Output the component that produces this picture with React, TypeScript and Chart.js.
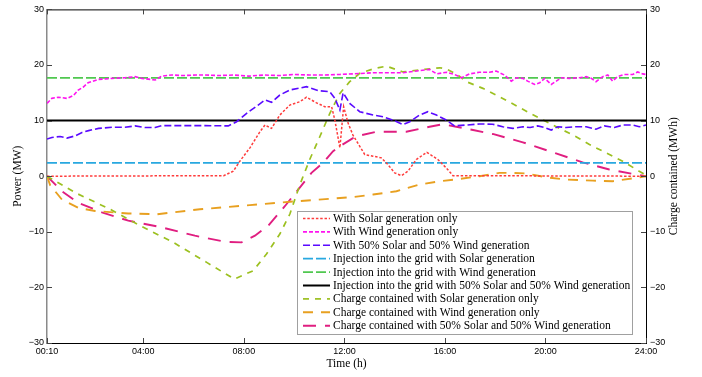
import React, { useEffect, useRef } from 'react';
import { Chart, registerables } from 'chart.js';

Chart.register(...registerables);

// ---- axes ----
const xTickValues = [1 / 6, 4, 8, 12, 16, 20, 24];
const xTickLabels = ['00:10', '04:00', '08:00', '12:00', '16:00', '20:00', '24:00'];
const yTickValues = [-30, -20, -10, 0, 10, 20, 30];

// ---- Power (MW), left axis ----
const solarT = [0.1667, 7.2, 7.58, 7.84, 8.24, 8.64, 8.84, 9.1, 9.43, 9.83, 10.23, 10.49, 10.89, 11.22, 11.49, 11.62, 11.82, 11.97, 12.15, 12.34, 12.54, 12.81, 13.14, 13.47, 13.73, 14.0, 14.27, 14.53, 14.86, 15.28, 15.72, 16.05, 16.32, 24];
const solarP = [0, 0.1, 0.9, 2.7, 5.1, 8, 9.2, 8.6, 11, 12.8, 13.4, 14.2, 13.2, 12.5, 12.5, 10.1, 5.1, 12.5, 9.5, 7.4, 5.9, 3.9, 3.6, 3.3, 2.1, 0.6, 0.1, 0.9, 3, 4.3, 3, 1.5, 0.1, 0];

const windT = [0.1667, 0.36, 0.61, 0.96, 1.22, 1.41, 1.6, 1.8, 2.2, 2.75, 3.27, 3.67, 3.94, 4.47, 4.73, 5.13, 5.6, 6.1, 6.45, 7.0, 7.6, 8.2, 8.8, 9.4, 10.0, 10.6, 11.2, 11.82, 12.33, 13.13, 14.32, 14.99, 15.39, 15.67, 16.07, 16.38, 16.66, 16.98, 17.37, 17.77, 18.04, 18.37, 18.64, 18.84, 19.1, 19.29, 19.57, 19.77, 19.97, 20.23, 20.43, 20.62, 20.95, 21.35, 21.62, 21.82, 22.01, 22.28, 22.48, 22.67, 22.87, 23.14, 23.47, 23.67, 23.87, 24];
const windP = [13.1, 14, 14.2, 14, 14.5, 15.5, 16, 16.8, 17.4, 17.6, 17.7, 17.9, 17.6, 17.3, 18, 18.2, 18.1, 18.2, 18.2, 18.1, 18.2, 18.0, 18.2, 18.1, 18.3, 18.2, 18.2, 18.3, 18.4, 18.6, 18.6, 19, 19.2, 18.4, 18.7, 18.3, 17.7, 18.4, 18.7, 18.7, 18.9, 18.2, 17.1, 17.7, 17.6, 17.1, 16.5, 16.8, 17.6, 16.5, 17.1, 17.7, 17.6, 17.7, 17.9, 17.6, 17.0, 17.9, 18.2, 17.1, 17.9, 18.3, 18.3, 18.75, 18.4, 18.3];

const mixT = [0.1667, 0.36, 0.69, 0.96, 1.29, 1.56, 1.82, 2.22, 2.75, 3.27, 3.67, 4.07, 4.47, 4.73, 5.13, 6.45, 7.38, 7.71, 8.11, 8.57, 8.84, 9.1, 9.43, 9.83, 10.49, 10.95, 11.42, 11.62, 11.82, 11.95, 12.21, 12.61, 13.14, 13.54, 13.93, 14.33, 14.6, 14.99, 15.32, 15.66, 16.05, 16.38, 16.85, 17.38, 17.9, 18.3, 18.7, 19.1, 19.39, 19.69, 19.97, 20.23, 20.49, 20.82, 21.22, 21.62, 22.01, 22.34, 22.74, 23.07, 23.47, 23.73, 24];
const mixP = [6.67, 6.96, 7.14, 6.85, 7.26, 7.86, 8.2, 8.6, 8.8, 8.8, 9.05, 8.75, 8.75, 9.1, 9.1, 9.1, 9.05, 9.8, 11.3, 12.8, 13.7, 13.3, 14.6, 15.5, 16.1, 15.4, 15.2, 14, 11.9, 15, 13.1, 11.6, 11, 10.7, 10.1, 9.3, 9.8, 11, 11.6, 11, 10.1, 9.05, 9.2, 9.4, 9.35, 8.9, 8.6, 8.9, 8.75, 9.05, 8.75, 8.3, 8.9, 8.75, 8.9, 8.9, 8.45, 9.05, 8.75, 9.2, 9.2, 8.9, 9.2];

const injectionT = [1 / 6, 24];
const injectionSolar = [2.4, 2.4];
const injectionWind = [17.7, 17.7];
const injectionMix = [10, 10];

// ---- Charge contained (MWh), right axis ----
const chargeSolarT = [0.1667, 1.35, 2.68, 3.87, 5.19, 6.52, 7.62, 8.37, 8.9, 9.43, 9.83, 10.23, 10.62, 11.02, 11.42, 11.82, 12.21, 12.61, 13.14, 13.67, 14.33, 14.86, 15.79, 16.05, 16.45, 16.85, 17.51, 18.17, 19.77, 20.43, 21.22, 21.75, 22.41, 23.07, 23.73, 24];
const chargeSolar = [0, -3.1, -5.95, -8.9, -11.9, -15.5, -18.5, -17, -14, -10.4, -6.8, -1.5, 3, 7.1, 11.3, 14.9, 17, 18.5, 19.3, 19.8, 18.75, 19.05, 19.5, 19.3, 18.4, 17, 15.8, 14.3, 10.4, 8.9, 7.1, 5.7, 4.2, 2.7, 0.9, 0.2];

const chargeWindT = [0.1667, 0.29, 0.76, 1.42, 2.08, 3.4, 4.53, 6.25, 8.24, 9.83, 12.34, 13.14, 14.07, 14.99, 15.79, 16.58, 17.38, 18.17, 18.7, 19.23, 20.03, 20.82, 21.88, 22.67, 23.47, 24];
const chargeWind = [0, -1.6, -4.2, -5.7, -6.25, -6.7, -6.85, -5.95, -5.2, -4.6, -3.75, -3.3, -2.7, -1.5, -0.9, -0.5, 0, 0.6, 0.6, 0.5, -0.2, -0.6, -0.8, -0.9, -0.4, 0];

const chargeMixT = [0.1667, 0.76, 1.42, 2.35, 3.4, 4.73, 6.05, 7.25, 7.91, 8.44, 8.97, 9.63, 10.16, 10.69, 11.15, 11.55, 11.82, 12.34, 12.61, 13.27, 14.46, 15.39, 15.92, 16.45, 17.12, 17.9, 19.1, 20.42, 21.48, 22.54, 23.6, 24];
const chargeMix = [0, -2.7, -4.8, -6.5, -8, -9.2, -10.7, -11.8, -11.9, -10.7, -8.9, -5.4, -2.4, 0.6, 2.4, 4.5, 5.4, 6.85, 7.3, 8, 8, 8.9, 9.35, 8.9, 8.3, 7.6, 6.1, 4.1, 2.5, 1.2, 0.3, 0];

const seriesLabels = [
  'With Solar generation only',
  'With Wind generation only',
  'With 50% Solar and 50% Wind generation',
  'Injection into the grid with Solar generation',
  'Injection into the grid with Wind generation',
  'Injection into the grid with 50% Solar and 50% Wind generation',
  'Charge contained with Solar generation only',
  'Charge contained with Wind generation only',
  'Charge contained with 50% Solar and 50% Wind generation',
];

const pts = (t: number[], v: number[]) => t.map((x, i) => ({ x, y: v[i] }));

const SERIF = '"Liberation Serif", "Times New Roman", serif';
const SANS = '"Liberation Sans", Arial, sans-serif';

const fmtMinus = (v: number) => (v < 0 ? '\u2212' + Math.abs(v) : String(v));

const framePlugin = {
  id: 'frame',
  afterDraw(chart: any) {
    const { ctx, chartArea: a, scales } = chart;
    ctx.save();
    // top border
    ctx.strokeStyle = '#000';
    ctx.lineWidth = 1;
    ctx.beginPath();
    ctx.moveTo(a.left, a.top + 0.5);
    ctx.lineTo(a.right, a.top + 0.5);
    ctx.stroke();
    // inward ticks
    ctx.strokeStyle = '#444';
    ctx.lineWidth = 1;
    const tl = 5;
    xTickValues.forEach((v) => {
      const px = Math.round(scales.x.getPixelForValue(v)) + 0.5;
      ctx.beginPath();
      ctx.moveTo(px, a.top);
      ctx.lineTo(px, a.top + tl);
      ctx.moveTo(px, a.bottom);
      ctx.lineTo(px, a.bottom - tl);
      ctx.stroke();
    });
    yTickValues.forEach((v) => {
      const py = Math.round(scales.y.getPixelForValue(v)) + 0.5;
      ctx.beginPath();
      ctx.moveTo(a.left, py);
      ctx.lineTo(a.left + tl, py);
      ctx.moveTo(a.right, py);
      ctx.lineTo(a.right - tl, py);
      ctx.stroke();
    });
    // axis titles
    ctx.fillStyle = '#000';
    ctx.font = `11.5px ${SERIF}`;
    ctx.textAlign = 'center';
    ctx.textBaseline = 'middle';
    ctx.fillText('Time (h)', (a.left + a.right) / 2, 364);
    const cy = (a.top + a.bottom) / 2;
    ctx.save();
    ctx.translate(18, cy);
    ctx.rotate(-Math.PI / 2);
    ctx.fillText('Power (MW)', 0, 0);
    ctx.restore();
    ctx.save();
    ctx.translate(674, cy);
    ctx.rotate(-Math.PI / 2);
    ctx.fillText('Charge contained (MWh)', 0, 0);
    ctx.restore();
    // legend
    const bx = 297.5, by = 211.5, bw = 335, bh = 123;
    ctx.fillStyle = '#fff';
    ctx.fillRect(bx, by, bw, bh);
    ctx.strokeStyle = '#a0a0a0';
    ctx.lineWidth = 1;
    ctx.strokeRect(bx, by, bw, bh);
    chart.data.datasets.forEach((ds: any, i: number) => {
      const ry = 218.5 + i * 13.4;
      ctx.save();
      ctx.strokeStyle = ds.borderColor;
      ctx.lineWidth = ds.borderWidth;
      ctx.setLineDash(ds.borderDash || []);
      ctx.beginPath();
      ctx.moveTo(303, ry);
      ctx.lineTo(330, ry);
      ctx.stroke();
      ctx.restore();
      ctx.fillStyle = '#000';
      ctx.font = `11.5px ${SERIF}`;
      ctx.textAlign = 'left';
      ctx.textBaseline = 'middle';
      ctx.fillText(ds.label, 333, ry + 0.5);
    });
    ctx.restore();
  },
};

export default function App() {
  const ref = useRef<HTMLCanvasElement | null>(null);
  useEffect(() => {
    if (!ref.current) return;
    const mk = (label: string, data: any[], color: string, width: number, dash: number[], axis: string) => ({
      label,
      data,
      borderColor: color,
      backgroundColor: color,
      borderWidth: width,
      borderDash: dash,
      pointRadius: 0,
      tension: 0,
      fill: false,
      yAxisID: axis,
    });
    const chart = new Chart(ref.current, {
      type: 'line',
      data: {
        datasets: [
          mk(seriesLabels[0], pts(solarT, solarP), '#ff3c3c', 1.5, [2.5, 1.8], 'y'),
          mk(seriesLabels[1], pts(windT, windP), '#ff14f0', 1.6, [4, 2], 'y'),
          mk(seriesLabels[2], pts(mixT, mixP), '#5a0aff', 1.6, [7, 3], 'y'),
          mk(seriesLabels[3], pts(injectionT, injectionSolar), '#28a8e0', 1.8, [10, 3], 'y'),
          mk(seriesLabels[4], pts(injectionT, injectionWind), '#50c850', 1.8, [10, 3], 'y'),
          mk(seriesLabels[5], pts(injectionT, injectionMix), '#000000', 2, [], 'y'),
          mk(seriesLabels[6], pts(chargeSolarT, chargeSolar), '#9cc020', 1.7, [6, 6], 'y2'),
          mk(seriesLabels[7], pts(chargeWindT, chargeWind), '#e8a020', 1.9, [10, 8], 'y2'),
          mk(seriesLabels[8], pts(chargeMixT, chargeMix), '#e01e80', 1.9, [13, 9], 'y2'),
        ],
      },
      options: {
        animation: false,
        responsive: false,
        devicePixelRatio: 1,
        layout: { padding: { top: 7, left: 0, right: 0, bottom: 0 } },
        plugins: { legend: { display: false }, tooltip: { enabled: false } },
        scales: {
          x: {
            type: 'linear',
            min: 1 / 6,
            max: 24,
            afterBuildTicks: (s: any) => {
              s.ticks = xTickValues.map((v) => ({ value: v }));
            },
            afterFit: (s: any) => {
              s.height = 34;
            },
            ticks: {
              autoSkip: false,
              maxRotation: 0,
              padding: 3,
              color: '#000',
              font: { family: SANS, size: 9 },
              callback: (v: any) => {
                const i = xTickValues.findIndex((t) => Math.abs(t - v) < 1e-6);
                return i >= 0 ? xTickLabels[i] : '';
              },
            },
            grid: { display: false, drawTicks: false },
            border: { display: true, color: '#000', width: 1 },
          },
          y: {
            position: 'left',
            min: -30,
            max: 30,
            afterBuildTicks: (s: any) => {
              s.ticks = yTickValues.map((v) => ({ value: v }));
            },
            afterFit: (s: any) => {
              s.width = 47;
            },
            ticks: {
              padding: 3,
              color: '#000',
              font: { family: SANS, size: 9 },
              callback: (v: any) => fmtMinus(Number(v)),
            },
            grid: { display: false, drawTicks: false },
            border: { display: true, color: '#8a8a8a', width: 1.5 },
          },
          y2: {
            position: 'right',
            min: -30,
            max: 30,
            afterBuildTicks: (s: any) => {
              s.ticks = yTickValues.map((v) => ({ value: v }));
            },
            afterFit: (s: any) => {
              s.width = 56;
            },
            ticks: {
              padding: 4,
              color: '#000',
              font: { family: SANS, size: 9 },
              callback: (v: any) => fmtMinus(Number(v)),
            },
            grid: { display: false, drawTicks: false },
            border: { display: true, color: '#000', width: 1 },
          },
        },
      },
      plugins: [framePlugin],
    } as any);
    return () => chart.destroy();
  }, []);
  return (
    <div style={{ position: 'absolute', left: 0, top: 0, width: 702, height: 377 }}>
      <canvas ref={ref} width={702} height={377} style={{ display: 'block' }} />
    </div>
  );
}
